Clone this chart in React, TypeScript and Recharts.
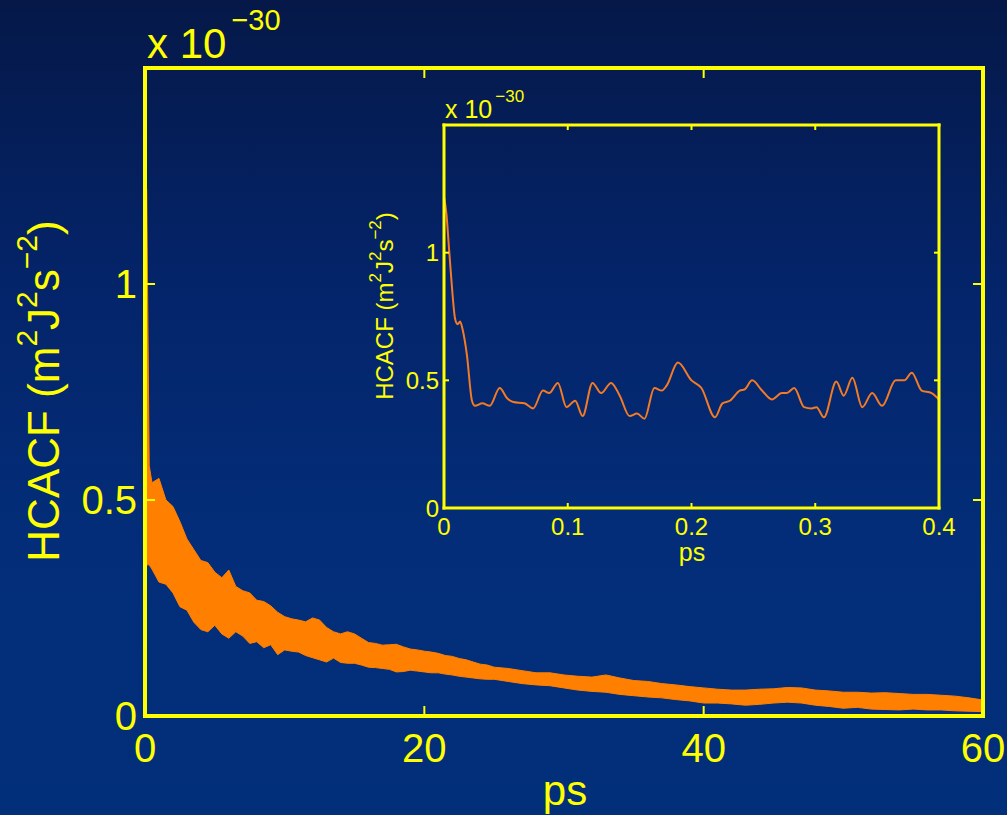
import React from 'react';
import { ComposedChart, Area, Line, XAxis, YAxis } from 'recharts';

const YELLOW = '#ffff00';
const ORANGE = '#ff8000';
const INSET_ORANGE = '#f47a24';
const FONT = '"Liberation Sans", Arial, Helvetica, sans-serif';

// main plot: time (ps), upper and lower edge of the noisy HCACF band (x 1e-30)
const mainTime = [
  0, 0.12, 0.3, 0.5, 1, 1.5, 2, 2.5, 3, 3.5, 4, 4.5, 5, 5.5, 6, 6.5, 7, 7.5, 8, 8.5, 9, 9.5, 10,
  10.5, 11, 11.5, 12, 12.5, 13, 13.5, 14, 14.5, 15, 15.5, 16, 16.5, 17, 17.5, 18, 18.5, 19,
  19.5, 20, 20.5, 21, 21.5, 22, 22.5, 23, 23.5, 24, 24.5, 25, 26, 27, 28, 29, 30, 31, 32, 33,
  34, 35, 36, 37, 38, 39, 40, 41, 42, 43, 44, 45, 46, 47, 48, 49, 50, 51, 52, 53, 54, 55, 56,
  57, 58, 59, 60,
];
const mainHigh = [
  1.22, 1.22, 0.58,
  0.54, 0.55, 0.5, 0.485, 0.45, 0.41, 0.385, 0.36, 0.355, 0.333,
  0.32, 0.338, 0.3, 0.29, 0.285, 0.268, 0.265, 0.255, 0.24, 0.23,
  0.225, 0.222, 0.218, 0.227, 0.222, 0.205, 0.195, 0.19, 0.195, 0.19,
  0.18, 0.17, 0.168, 0.164, 0.165, 0.166, 0.16, 0.155, 0.153, 0.15,
  0.148, 0.145, 0.14, 0.138, 0.133, 0.13, 0.125, 0.12, 0.118, 0.113,
  0.11, 0.105, 0.1, 0.1, 0.095, 0.092, 0.09, 0.095, 0.088, 0.082, 0.08, 0.075, 0.072, 0.068,
  0.065, 0.062, 0.06, 0.06, 0.062, 0.063, 0.066, 0.065, 0.06, 0.058, 0.055, 0.055, 0.053,
  0.054, 0.052, 0.05, 0.05, 0.048, 0.046, 0.042, 0.037,
];
const mainLow = [
  0.35, 0.35, 0.35,
  0.34, 0.31, 0.305, 0.285, 0.253, 0.245, 0.217, 0.2, 0.195, 0.21,
  0.19, 0.18, 0.195, 0.185, 0.168, 0.172, 0.158, 0.165, 0.142, 0.153,
  0.15, 0.148, 0.14, 0.135, 0.13, 0.125, 0.134, 0.124, 0.122, 0.122,
  0.118, 0.113, 0.112, 0.11, 0.108, 0.102, 0.103, 0.106, 0.104, 0.102,
  0.1, 0.1, 0.097, 0.095, 0.092, 0.09, 0.088, 0.086, 0.085, 0.085,
  0.08, 0.075, 0.072, 0.07, 0.065, 0.06, 0.057, 0.055, 0.05, 0.047, 0.044, 0.042, 0.038, 0.035,
  0.03, 0.03, 0.028, 0.025, 0.027, 0.03, 0.032, 0.03, 0.025, 0.022, 0.018, 0.02, 0.016, 0.015,
  0.014, 0.016, 0.014, 0.014, 0.012, 0.011, 0.01,
];

// inset: first 0.4 ps
const insetTime = [
  0, 0.002, 0.004, 0.0065, 0.009, 0.011, 0.013, 0.015, 0.0185, 0.0226, 0.025, 0.031, 0.037,
  0.045, 0.051, 0.056, 0.065, 0.072, 0.08, 0.085, 0.092, 0.099, 0.106, 0.112, 0.12, 0.127,
  0.135, 0.142, 0.15, 0.156, 0.162, 0.17, 0.176, 0.18, 0.189, 0.2, 0.208, 0.219, 0.225, 0.231,
  0.239, 0.243, 0.249, 0.257, 0.265, 0.273, 0.277, 0.283, 0.291, 0.297, 0.301, 0.307, 0.317,
  0.323, 0.33, 0.338, 0.346, 0.354, 0.365, 0.372, 0.378, 0.386, 0.394, 0.4,
];
const insetValue = [
  1.22, 1.15, 1.02, 0.86, 0.74, 0.72, 0.73, 0.7, 0.6, 0.42, 0.4, 0.41, 0.4, 0.47, 0.43, 0.415,
  0.41, 0.39, 0.46, 0.45, 0.49, 0.395, 0.42, 0.36, 0.49, 0.45, 0.49, 0.44, 0.36, 0.37, 0.35,
  0.47, 0.46, 0.48, 0.57, 0.5, 0.47, 0.355, 0.41, 0.42, 0.46, 0.465, 0.5, 0.46, 0.425, 0.45,
  0.45, 0.47, 0.395, 0.39, 0.395, 0.355, 0.495, 0.44, 0.51, 0.395, 0.45, 0.4, 0.5, 0.5, 0.53,
  0.46, 0.45, 0.425,
];

const mainXTicks = [0, 20, 40, 60];
const mainYTicks = [0, 0.5, 1];
const insetXTicks = [0, 0.1, 0.2, 0.3, 0.4];
const insetYTicks = [0, 0.5, 1];

const mainData = mainTime.map((t, i) => ({ t, band: [mainLow[i], mainHigh[i]] }));
const insetData = insetTime.map((t, i) => ({ t, v: insetValue[i] }));

type Side = 'bottom' | 'top' | 'left' | 'right';

// MATLAB-like inward ticks, labels outside
const makeTick = (side: Side, len: number, fontSize: number, gap: number, sw: number, showLabel: boolean) =>
  (props: any) => {
    const { x, y, payload } = props;
    const label = String(payload.value);
    let x2 = x;
    let y2 = y;
    if (side === 'bottom') y2 = y - len;
    if (side === 'top') y2 = y + len;
    if (side === 'left') x2 = x + len;
    if (side === 'right') x2 = x - len;
    let text: React.ReactNode = null;
    if (showLabel && side === 'bottom') {
      text = (
        <text x={x} y={y + gap} textAnchor="middle" fill={YELLOW} fontSize={fontSize} fontFamily={FONT}>
          {label}
        </text>
      );
    }
    if (showLabel && side === 'left') {
      text = (
        <text x={x - gap} y={y} dy="0.36em" textAnchor="end" fill={YELLOW} fontSize={fontSize} fontFamily={FONT}>
          {label}
        </text>
      );
    }
    return (
      <g>
        <line x1={x} y1={y} x2={x2} y2={y2} stroke={YELLOW} strokeWidth={sw} />
        {text}
      </g>
    );
  };

const axisLine = (w: number) => ({ stroke: YELLOW, strokeWidth: w, strokeLinecap: 'square' as const });

const App: React.FC = () => {
  return (
    <div
      style={{
        position: 'absolute',
        left: 0,
        top: 0,
        width: 1007,
        height: 815,
        overflow: 'hidden',
        background: 'linear-gradient(to bottom, #051848 0%, #04246a 35%, #032d78 65%, #022f7a 100%)',
      }}
    >
      <div style={{ position: 'absolute', left: 0, top: 0 }}>
        <ComposedChart width={1007} height={815} data={mainData} margin={{ top: 58, right: 14, bottom: 89, left: 135 }}>
          <XAxis
            dataKey="t"
            type="number"
            domain={[0, 60]}
            ticks={mainXTicks}
            interval={0}
            height={10}
            tickSize={0}
            tickMargin={0}
            tickLine={false}
            axisLine={axisLine(4)}
            tick={makeTick('bottom', 10, 40, 46, 2, true)}
            allowDataOverflow
          />
          <XAxis
            xAxisId="top"
            orientation="top"
            dataKey="t"
            type="number"
            domain={[0, 60]}
            ticks={mainXTicks}
            interval={0}
            height={10}
            tickSize={0}
            tickMargin={0}
            tickLine={false}
            axisLine={axisLine(4)}
            tick={makeTick('top', 10, 40, 0, 2, false)}
            allowDataOverflow
          />
          <YAxis
            type="number"
            domain={[0, 1.5]}
            ticks={mainYTicks}
            interval={0}
            width={10}
            tickSize={0}
            tickMargin={0}
            tickLine={false}
            axisLine={axisLine(4)}
            tick={makeTick('left', 10, 40, 8, 2, true)}
            allowDataOverflow
          />
          <YAxis
            yAxisId="right"
            orientation="right"
            type="number"
            domain={[0, 1.5]}
            ticks={mainYTicks}
            interval={0}
            width={10}
            tickSize={0}
            tickMargin={0}
            tickLine={false}
            axisLine={axisLine(4)}
            tick={makeTick('right', 10, 40, 0, 2, false)}
            allowDataOverflow
          />
          <Area
            type="linear"
            dataKey="band"
            stroke={ORANGE}
            strokeWidth={1}
            fill={ORANGE}
            fillOpacity={1}
            dot={false}
            activeDot={false}
            isAnimationActive={false}
          />
        </ComposedChart>
      </div>

      <div style={{ position: 'absolute', left: 0, top: 0 }}>
        <ComposedChart width={1007} height={815} data={insetData} margin={{ top: 115, right: 58, bottom: 297, left: 434 }}>
          <XAxis
            dataKey="t"
            type="number"
            domain={[0, 0.4]}
            ticks={insetXTicks}
            interval={0}
            height={10}
            tickSize={0}
            tickMargin={0}
            tickLine={false}
            axisLine={axisLine(3)}
            tick={makeTick('bottom', 5, 24, 27, 2, true)}
            allowDataOverflow
          />
          <XAxis
            xAxisId="top"
            orientation="top"
            dataKey="t"
            type="number"
            domain={[0, 0.4]}
            ticks={insetXTicks}
            interval={0}
            height={10}
            tickSize={0}
            tickMargin={0}
            tickLine={false}
            axisLine={axisLine(3)}
            tick={makeTick('top', 5, 24, 0, 2, false)}
            allowDataOverflow
          />
          <YAxis
            type="number"
            domain={[0, 1.5]}
            ticks={insetYTicks}
            interval={0}
            width={10}
            tickSize={0}
            tickMargin={0}
            tickLine={false}
            axisLine={axisLine(3)}
            tick={makeTick('left', 5, 24, 5, 2, true)}
            allowDataOverflow
          />
          <YAxis
            yAxisId="right"
            orientation="right"
            type="number"
            domain={[0, 1.5]}
            ticks={insetYTicks}
            interval={0}
            width={10}
            tickSize={0}
            tickMargin={0}
            tickLine={false}
            axisLine={axisLine(3)}
            tick={makeTick('right', 5, 24, 0, 2, false)}
            allowDataOverflow
          />
          <Line
            type="monotone"
            dataKey="v"
            stroke={INSET_ORANGE}
            strokeWidth={2}
            dot={false}
            activeDot={false}
            isAnimationActive={false}
          />
        </ComposedChart>
      </div>

      <svg width={1007} height={815} style={{ position: 'absolute', left: 0, top: 0, pointerEvents: 'none' }}>
        <g fill={YELLOW} fontFamily={FONT}>
          <text x={147} y={58} fontSize={42}>
            x 10
            <tspan dx={5} dy={-28} fontSize={29}>−30</tspan>
          </text>
          <text x={565} y={805} fontSize={42} textAnchor="middle">ps</text>
          <text transform="translate(59,391) rotate(-90)" fontSize={44} textAnchor="middle">
            HCACF (m
            <tspan dy={-22} fontSize={30}>2</tspan>
            <tspan dy={22} fontSize={44}>J</tspan>
            <tspan dy={-22} fontSize={30}>2</tspan>
            <tspan dy={22} fontSize={44}>s</tspan>
            <tspan dy={-22} fontSize={30}>−2</tspan>
            <tspan dy={22} fontSize={44}>)</tspan>
          </text>

          <text x={445} y={118} fontSize={25}>
            x 10
            <tspan dx={3} dy={-16} fontSize={17}>−30</tspan>
          </text>
          <text x={692} y={561} fontSize={25} textAnchor="middle">ps</text>
          <text transform="translate(393,306) rotate(-90)" fontSize={24} textAnchor="middle">
            HCACF (m
            <tspan dy={-12} fontSize={17}>2</tspan>
            <tspan dy={12} fontSize={24}>J</tspan>
            <tspan dy={-12} fontSize={17}>2</tspan>
            <tspan dy={12} fontSize={24}>s</tspan>
            <tspan dy={-12} fontSize={17}>−2</tspan>
            <tspan dy={12} fontSize={24}>)</tspan>
          </text>
        </g>
      </svg>
    </div>
  );
};

export default App;
